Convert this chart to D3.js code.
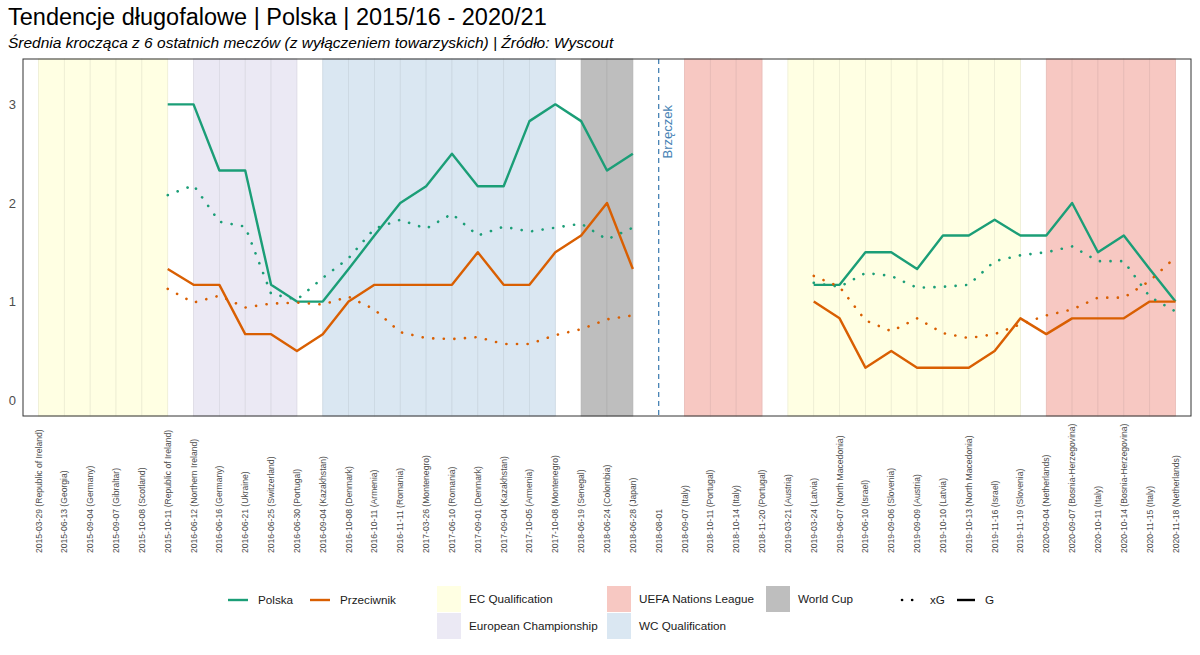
<!DOCTYPE html>
<html>
<head>
<meta charset="utf-8">
<script src="https://cdn.jsdelivr.net/npm/d3@7"></script>
<style>
  body { margin: 0; background: #fff; }
  text { font-family: "Liberation Sans", Arial, sans-serif; }
</style>
</head>
<body>
<svg id="vis" width="1200" height="655"></svg>
<script>
// matches (x categories)
const matches = [
  "2015-03-29 (Republic of Ireland)", "2015-06-13 (Georgia)", "2015-09-04 (Germany)",
  "2015-09-07 (Gibraltar)", "2015-10-08 (Scotland)", "2015-10-11 (Republic of Ireland)",
  "2016-06-12 (Northern Ireland)", "2016-06-16 (Germany)", "2016-06-21 (Ukraine)",
  "2016-06-25 (Switzerland)", "2016-06-30 (Portugal)", "2016-09-04 (Kazakhstan)",
  "2016-10-08 (Denmark)", "2016-10-11 (Armenia)", "2016-11-11 (Romania)",
  "2017-03-26 (Montenegro)", "2017-06-10 (Romania)", "2017-09-01 (Denmark)",
  "2017-09-04 (Kazakhstan)", "2017-10-05 (Armenia)", "2017-10-08 (Montenegro)",
  "2018-06-19 (Senegal)", "2018-06-24 (Colombia)", "2018-06-28 (Japan)",
  "2018-08-01", "2018-09-07 (Italy)", "2018-10-11 (Portugal)", "2018-10-14 (Italy)",
  "2018-11-20 (Portugal)", "2019-03-21 (Austria)", "2019-03-24 (Latvia)",
  "2019-06-07 (North Macedonia)", "2019-06-10 (Israel)", "2019-09-06 (Slovenia)",
  "2019-09-09 (Austria)", "2019-10-10 (Latvia)", "2019-10-13 (North Macedonia)",
  "2019-11-16 (Israel)", "2019-11-19 (Slovenia)", "2020-09-04 (Netherlands)",
  "2020-09-07 (Bosnia-Herzegovina)", "2020-10-11 (Italy)", "2020-10-14 (Bosnia-Herzegovina)",
  "2020-11-15 (Italy)", "2020-11-18 (Netherlands)"
];

const EC = "EC Qualification", EURO = "European Championship", WCQ = "WC Qualification",
      UNL = "UEFA Nations League", WC = "World Cup";

// competition of each match
const competition = [
  EC, EC, EC, EC, EC, EC,
  EURO, EURO, EURO, EURO, EURO,
  WCQ, WCQ, WCQ, WCQ, WCQ, WCQ, WCQ, WCQ, WCQ, WCQ,
  WC, WC, WC,
  null,
  UNL, UNL, UNL, UNL,
  EC, EC, EC, EC, EC, EC, EC, EC, EC, EC,
  UNL, UNL, UNL, UNL, UNL, UNL
];

const _ = null;
// rolling averages (6 matches)
const polskaG = [_, _, _, _, _, 3.0, 3.0, 2.33, 2.33, 1.17, 1.0, 1.0, 1.33, 1.67, 2.0, 2.17, 2.5, 2.17, 2.17, 2.83, 3.0, 2.83, 2.33, 2.5,
  _, _, _, _, _, _, 1.17, 1.17, 1.5, 1.5, 1.33, 1.67, 1.67, 1.83, 1.67, 1.67, 2.0, 1.5, 1.67, 1.33, 1.0];
const przeciwnikG = [_, _, _, _, _, 1.33, 1.17, 1.17, 0.67, 0.67, 0.5, 0.67, 1.0, 1.17, 1.17, 1.17, 1.17, 1.5, 1.17, 1.17, 1.5, 1.67, 2.0, 1.33,
  _, _, _, _, _, _, 1.0, 0.83, 0.33, 0.5, 0.33, 0.33, 0.33, 0.5, 0.83, 0.67, 0.83, 0.83, 0.83, 1.0, 1.0];
const polskaXG = [_, _, _, _, _, 2.08, 2.18, 1.81, 1.76, 1.08, 1.02, 1.24, 1.44, 1.74, 1.83, 1.74, 1.89, 1.67, 1.76, 1.71, 1.75, 1.79, 1.63, 1.75,
  _, _, _, _, _, _, 1.19, 1.15, 1.29, 1.26, 1.14, 1.15, 1.17, 1.41, 1.47, 1.50, 1.56, 1.41, 1.41, 1.05, 0.90];
const przeciwnikXG = [_, _, _, _, _, 1.13, 0.99, 1.06, 0.94, 0.98, 0.99, 0.97, 1.05, 0.92, 0.69, 0.63, 0.62, 0.64, 0.57, 0.57, 0.66, 0.72, 0.82, 0.86,
  _, _, _, _, _, _, 1.26, 1.15, 0.81, 0.70, 0.83, 0.68, 0.63, 0.67, 0.77, 0.86, 0.92, 1.04, 1.04, 1.21, 1.45];

const coachChange = { match: "2018-08-01", label: "Brzęczek" };
const yTicks = [0, 1, 2, 3];

const compColors = {
  [EC]: "#FFFFE3",
  [EURO]: "#EBE9F4",
  [WCQ]: "#DAE7F2",
  [UNL]: "#F7C8C2",
  [WC]: "#BEBEBE"
};
const teamColors = { "Polska": "#1b9e77", "Przeciwnik": "#d95f02" };

const svg = d3.select("#vis");
const margin = { top: 59, right: 9, bottom: 239, left: 23 };
const W = 1200, H = 655;

// title
svg.append("text").attr("x", 8).attr("y", 25)
  .attr("font-size", 23.5).attr("fill", "#000")
  .text("Tendencje długofalowe | Polska | 2015/16 - 2020/21");
svg.append("text").attr("x", 8).attr("y", 48)
  .attr("font-size", 15.5).attr("font-style", "italic").attr("fill", "#000")
  .text("Średnia krocząca z 6 ostatnich meczów (z wyłączeniem towarzyskich) | Źródło: Wyscout");

const x = d3.scalePoint().domain(matches)
  .range([margin.left, W - margin.right]).padding(0.6);
const y = d3.scaleLinear().domain([-0.16, 3.46])
  .range([H - margin.bottom, margin.top]);

// competition bands (one rect between consecutive matches of same competition)
const bands = [];
for (let i = 0; i < matches.length - 1; i++) {
  if (competition[i] && competition[i] === competition[i + 1]) {
    bands.push({ a: matches[i], b: matches[i + 1], comp: competition[i] });
  }
}
svg.append("g").selectAll("rect").data(bands).join("rect")
  .attr("x", d => x(d.a))
  .attr("width", d => x(d.b) - x(d.a))
  .attr("y", margin.top)
  .attr("height", y.range()[0] - margin.top)
  .attr("fill", d => compColors[d.comp])
  .attr("stroke", d => d3.color(compColors[d.comp]).darker(0.2))
  .attr("stroke-width", 0.8);

// coach change
svg.append("line")
  .attr("x1", x(coachChange.match)).attr("x2", x(coachChange.match))
  .attr("y1", margin.top).attr("y2", y.range()[0])
  .attr("stroke", "#4682B4").attr("stroke-width", 1.3)
  .attr("stroke-dasharray", "5,4");
svg.append("text")
  .attr("transform", `translate(${x(coachChange.match) + 9},105) rotate(-90)`)
  .attr("text-anchor", "end").attr("dy", "0.35em")
  .attr("font-size", 13).attr("fill", "#4682B4")
  .text(coachChange.label);

// lines
const series = [
  { values: polskaG, color: teamColors["Polska"], dotted: false },
  { values: przeciwnikG, color: teamColors["Przeciwnik"], dotted: false },
  { values: polskaXG, color: teamColors["Polska"], dotted: true },
  { values: przeciwnikXG, color: teamColors["Przeciwnik"], dotted: true }
];
const line = d3.line()
  .defined(d => d.v != null)
  .x(d => x(d.m))
  .y(d => y(d.v));

svg.append("g").selectAll("path").data(series).join("path")
  .attr("d", s => line(s.values.map((v, i) => ({ m: matches[i], v: v }))))
  .attr("fill", "none")
  .attr("stroke", s => s.color)
  .attr("stroke-width", s => s.dotted ? 2.6 : 2.4)
  .attr("stroke-linecap", s => s.dotted ? "round" : "butt")
  .attr("stroke-linejoin", "round")
  .attr("stroke-dasharray", s => s.dotted ? "0.1,10.5" : null);

// panel border
svg.append("rect")
  .attr("x", margin.left).attr("y", margin.top)
  .attr("width", W - margin.right - margin.left)
  .attr("height", y.range()[0] - margin.top)
  .attr("fill", "none").attr("stroke", "#333").attr("stroke-width", 1);

// y axis labels
svg.append("g").selectAll("text").data(yTicks).join("text")
  .attr("x", margin.left - 7).attr("y", d => y(d)).attr("dy", "0.35em")
  .attr("text-anchor", "end").attr("font-size", 13).attr("fill", "#4d4d4d")
  .text(d => d);

// x axis labels
svg.append("g").selectAll("text").data(matches).join("text")
  .attr("transform", d => `translate(${x(d)},553) rotate(-90)`)
  .attr("dy", "0.35em")
  .attr("font-size", 8.6).attr("fill", "#4d4d4d")
  .text(d => d);

// legend
const leg = svg.append("g").attr("font-size", 11.7).attr("fill", "#1a1a1a");
const teamLeg = [
  { name: "Polska", x: 228 },
  { name: "Przeciwnik", x: 310 }
];
teamLeg.forEach(t => {
  leg.append("line").attr("x1", t.x).attr("x2", t.x + 20).attr("y1", 600).attr("y2", 600)
    .attr("stroke", teamColors[t.name]).attr("stroke-width", 2.4);
  leg.append("text").attr("x", t.x + 30).attr("y", 600).attr("dy", "0.35em").text(t.name);
});

const compLeg = [
  { name: EC, x: 437, y: 586 },
  { name: EURO, x: 437, y: 613 },
  { name: UNL, x: 607, y: 586 },
  { name: WCQ, x: 607, y: 613 },
  { name: WC, x: 766, y: 586 }
];
compLeg.forEach(c => {
  leg.append("rect").attr("x", c.x).attr("y", c.y).attr("width", 24).attr("height", 26)
    .attr("fill", compColors[c.name]);
  leg.append("text").attr("x", c.x + 32).attr("y", c.y + 13).attr("dy", "0.35em").text(c.name);
});

const typeLeg = [
  { name: "xG", x: 900, dotted: true },
  { name: "G", x: 955, dotted: false }
];
typeLeg.forEach(t => {
  leg.append("line").attr("x1", t.x + 2).attr("x2", t.x + 20).attr("y1", 600).attr("y2", 600)
    .attr("stroke", "#000").attr("stroke-width", t.dotted ? 2.6 : 2.4)
    .attr("stroke-linecap", t.dotted ? "round" : "butt")
    .attr("stroke-dasharray", t.dotted ? "0.1,10" : null);
  leg.append("text").attr("x", t.x + 30).attr("y", 600).attr("dy", "0.35em").text(t.name);
});
</script>
</body>
</html>
